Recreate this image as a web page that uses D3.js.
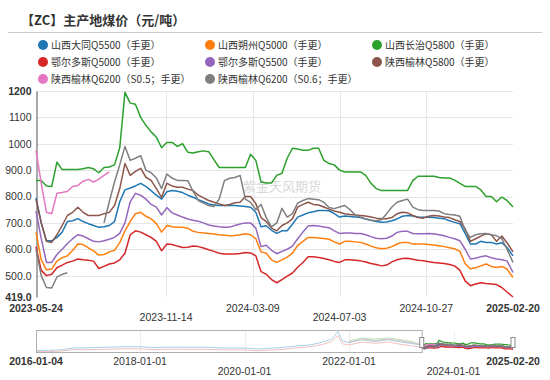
<!DOCTYPE html>
<html><head><meta charset="utf-8">
<script src="https://cdn.jsdelivr.net/npm/d3@7"></script>
<style>body{margin:0;background:#fff;}svg{display:block;}</style>
</head><body><svg id="c" width="550" height="380"></svg>
<script>
// ---------- DATA ----------
const dates = ("2023-05-24,2023-05-31,2023-06-07,2023-06-14,2023-06-21,2023-06-28,2023-07-05,2023-07-12,2023-07-19,2023-07-26," +
"2023-08-02,2023-08-09,2023-08-16,2023-08-23,2023-08-30,2023-09-06,2023-09-13,2023-09-20,2023-09-27,2023-10-04," +
"2023-10-11,2023-10-18,2023-10-25,2023-11-01,2023-11-08,2023-11-15,2023-11-22,2023-11-29,2023-12-06,2023-12-13," +
"2023-12-20,2023-12-27,2024-01-03,2024-01-10,2024-01-17,2024-01-24,2024-01-31,2024-02-07,2024-02-14,2024-02-21," +
"2024-02-28,2024-03-06,2024-03-13,2024-03-20,2024-03-27,2024-04-03,2024-04-10,2024-04-17,2024-04-24,2024-05-01," +
"2024-05-08,2024-05-15,2024-05-22,2024-05-29,2024-06-05,2024-06-12,2024-06-19,2024-06-26,2024-07-03,2024-07-10," +
"2024-07-17,2024-07-24,2024-07-31,2024-08-07,2024-08-14,2024-08-21,2024-08-28,2024-09-04,2024-09-11,2024-09-18," +
"2024-09-25,2024-10-02,2024-10-09,2024-10-16,2024-10-23,2024-10-30,2024-11-06,2024-11-13,2024-11-20,2024-11-27," +
"2024-12-04,2024-12-11,2024-12-18,2024-12-25,2025-01-01,2025-01-08,2025-01-15,2025-01-22,2025-01-29,2025-02-05," +
"2025-02-12,2025-02-20").split(",");

const datong5500 = [795,700,632,632,645,665,705,708,716,705, 697,690,683,685,690,705,780,825,832,840,
 850,838,822,805,790,818,823,820,815,805, 797,788,780,772,768,766,766,766,766,764,
 762,759,740,685,689,672,660,670,670,695, 722,730,738,742,747,747,746,735,722,726,
 724,722,720,715,710,705,702,703,708,715, 725,728,726,722,721,721,720,718,716,708,
 702,697,660,620,620,630,626,626,620,625, 607,575];
const shuozhou5000 = [664,560,522,525,555,568,575,595,620,618, 605,594,578,580,590,596,625,670,705,735,
 740,725,715,697,665,690,685,683,683,680, 668,664,662,660,658,655,653,651,652,655,
 659,655,640,590,585,560,550,560,570,585, 615,630,645,645,643,641,638,628,620,630,
 630,628,626,620,612,606,602,604,610,620, 626,626,620,620,620,618,616,613,610,606,
 602,592,545,526,530,537,544,535,531,535, 525,493];
const changzhi5800 = [861,861,840,838,930,902,902,902,902,905, 910,905,890,910,912,920,985,1195,1154,1150,
 1100,1070,1045,1025,985,1005,1005,990,1000,968, 965,970,973,970,940,910,910,910,910,910,
 910,960,937,855,851,851,880,888,945,983, 980,975,975,983,983,937,925,920,900,893,
 893,893,893,880,850,830,823,823,823,823, 823,823,860,877,877,877,877,872,870,870,
 862,850,838,838,838,825,800,800,780,798, 785,760];
const erdos5000 = [610,520,500,505,530,540,550,555,563,560, 558,555,527,535,544,548,560,585,655,670,
 665,655,645,630,594,620,618,612,607,608, 612,610,605,598,592,585,582,582,582,584,
 588,586,575,515,505,485,473,485,498,510, 532,550,572,572,569,565,560,554,550,560,
 560,558,556,552,546,542,537,540,552,560, 565,566,562,558,556,553,550,548,546,542,
 537,520,480,462,468,473,470,468,466,455, 438,419];
const erdos5500 = [745,640,550,550,580,600,622,640,655,650, 640,630,628,632,638,645,660,700,780,812,
 805,790,770,760,730,758,738,730,722,715, 710,706,700,692,688,685,683,684,690,696,
 700,700,680,610,615,596,583,592,600,612, 640,665,688,690,688,684,682,670,660,662,
 662,660,660,655,648,642,640,642,650,664, 668,668,660,659,659,660,659,655,651,645,
 640,632,600,563,566,572,575,568,563,560, 556,512];
const yulin5800 = [790,700,630,626,655,690,728,740,759,740, 728,728,728,735,740,766,830,925,880,895,
 907,873,861,830,797,850,840,835,835,828, 823,805,795,785,778,772,766,770,776,778,
 800,800,773,720,705,680,670,690,700,715, 760,770,778,770,768,760,752,745,740,735,
 732,730,728,726,722,718,716,716,720,735, 740,738,728,720,718,725,728,726,722,720,
 712,705,678,630,640,650,659,655,630,650, 625,590];
const yulin6200s05 = [975,850,740,735,812,815,820,838,842,858, 865,855,866,880,893];
const yulin6200s06 = [600,500,455,453,495,505,511,null,null,null, null,null,null,700,780,855,920,990,937,945,
 955,900,890,870,830,885,870,861,861,860, 820,785,775,766,762,790,860,869,872,880,
 790,778,750,770,720,685,700,755,722,735, 775,785,792,790,788,778,758,754,760,766,
 750,730,722,715,710,708,712,735,760,778, 785,790,760,750,747,747,747,745,735,732,
 730,725,670,645,655,659,660,655,651,640, 600,550];

const seriesNames = ["山西大同Q5500（手更）","山西朔州Q5000（手更）","山西长治Q5800（手更）",
 "鄂尔多斯Q5000（手更）","鄂尔多斯Q5500（手更）","陕西榆林Q5800（手更）",
 "陕西榆林Q6200（S0.5；手更）","陕西榆林Q6200（S0.6；手更）"];
const seriesValues = [datong5500, shuozhou5000, changzhi5800, erdos5000, erdos5500, yulin5800, yulin6200s05, yulin6200s06];
const seriesColors = ["#1f77b4","#ff7f0e","#2ca02c","#d62728","#9467bd","#8c564b","#e377c2","#7f7f7f"];

const yTickValues = [419,500,600,700,800,900,1000,1100,1200];
const yTickLabels = ["419.0","500.0","600.0","700.0","800.0","900.0","1000","1100","1200"];
const xTickDates = ["2023-05-24","2023-11-14","2024-03-09","2024-07-03","2024-10-27","2025-02-20"];

// navigator history (before the visible window)
const histDates = ["2016-01-04","2016-04-01","2016-07-01","2016-10-01","2017-01-01","2017-04-01","2017-07-01","2017-10-01",
 "2018-01-01","2018-04-01","2018-07-01","2018-10-01","2019-01-01","2019-04-01","2019-07-01","2019-10-01",
 "2020-01-01","2020-04-01","2020-07-01","2020-10-01","2021-01-01","2021-04-01","2021-07-01","2021-09-01",
 "2021-10-15","2021-11-15","2022-01-01","2022-04-01","2022-07-01","2022-10-01","2023-01-01","2023-04-01","2023-05-24"];
const histDatong = [330,330,390,560,560,600,620,660,650,580,610,620,600,610,560,540,540,460,520,600,720,800,1050,1300,1950,1150,1000,1250,1100,1250,1050,900,795];
const histErdos = [230,230,280,420,400,430,450,480,470,400,430,440,420,430,400,380,380,300,360,430,560,640,850,1100,1600,900,800,1050,950,1050,850,700,610];
const histChangzhi = [null,null,null,null,null,null,null,null,null,null,null,null,null,null,null,null,null,null,null,null,null,null,null,null,null,null,1150,1400,1300,1400,1250,1050,861];
const histYulin = [null,null,null,null,null,null,null,null,null,null,null,null,null,null,null,null,null,null,null,null,null,null,null,null,null,null,1050,1300,1200,1300,1150,950,790];
const navTickDates = ["2016-01-04","2018-01-01","2020-01-01","2022-01-01","2024-01-01","2025-02-20"];

// ---------- DRAW ----------
const parse = d3.timeParse("%Y-%m-%d");
const svg = d3.select("#c");
const X0 = 36, X1 = 513, YB = 297, YT = 91;
const FONT = "'Liberation Sans', Arial, sans-serif";
const CJK = "'Noto Sans CJK SC', sans-serif";

const x = d3.scaleTime().domain([parse("2023-05-24"), parse("2025-02-20")]).range([X0, X1]);
const y = d3.scaleLinear().domain([419, 1200]).range([YB, YT]);

// title
svg.append("text").attr("x", 21).attr("y", 25)
  .attr("font-family", CJK).attr("font-weight", "bold").attr("font-size", 13).attr("fill", "#333")
  .text("【ZC】主产地煤价（元/吨）");
svg.append("line").attr("x1", 8).attr("x2", 542).attr("y1", 32.5).attr("y2", 32.5)
  .attr("stroke", "#c8c8c8").attr("stroke-width", 1);

// legend
const legX = [43, 210, 377], legY = [45, 62, 79];
const leg = svg.append("g");
seriesNames.forEach((n, i) => {
  const cx = legX[i % 3], cy = legY[Math.floor(i / 3)];
  leg.append("circle").attr("cx", cx).attr("cy", cy).attr("r", 5).attr("fill", seriesColors[i]);
  leg.append("text").attr("x", cx + 8).attr("y", cy).attr("dy", "0.36em")
    .attr("font-family", CJK).attr("font-size", 10).attr("fill", "#333").text(n);
});

// grid
const grid = svg.append("g");
yTickValues.filter(v => v > 419).forEach(v => {
  grid.append("line").attr("x1", X0).attr("x2", X1).attr("y1", Math.round(y(v)) + 0.5).attr("y2", Math.round(y(v)) + 0.5)
    .attr("stroke", "#e6e6e6");
});
xTickDates.slice(1, -1).forEach(d => {
  const xx = Math.round(x(parse(d))) + 0.5;
  grid.append("line").attr("x1", xx).attr("x2", xx).attr("y1", YT).attr("y2", YB).attr("stroke", "#e6e6e6");
});

// y axis
const yAxis = d3.axisLeft(y).tickValues(yTickValues).tickSize(0).tickPadding(5)
  .tickFormat((d, i) => yTickLabels[i]);
const ya = svg.append("g").attr("transform", `translate(${X0 + 0.5},0)`).call(yAxis);
ya.select(".domain").attr("stroke", "#555");
ya.selectAll("text").attr("font-family", FONT).attr("font-size", 10.5).attr("fill", "#333")
  .attr("font-weight", (d) => (d === 419 || d === 1200) ? "bold" : "normal");

// x axis labels
const xa = svg.append("g");
xTickDates.forEach((d, i) => {
  const lower = (i === 1 || i === 3);
  xa.append("text").attr("x", x(parse(d))).attr("y", lower ? 321 : 312)
    .attr("text-anchor", "middle").attr("font-family", FONT).attr("font-size", 10.5)
    .attr("fill", "#333").attr("font-weight", (i === 0 || i === 5) ? "bold" : "normal").text(d);
});

// watermark
svg.append("text").attr("x", 243).attr("y", 191).attr("font-family", CJK).attr("font-size", 13)
  .attr("fill", "#d0d0d0").attr("opacity", 0.8).text("紫金天风期货");

// series
const dts = dates.map(parse);
const line = d3.line().defined(d => d[1] != null).x(d => x(d[0])).y(d => y(d[1]));
const plot = svg.append("g");
seriesValues.forEach((vals, i) => {
  const pts = dts.map((d, j) => [d, j < vals.length ? vals[j] : null]);
  plot.append("path").attr("d", line(pts)).attr("fill", "none")
    .attr("stroke", seriesColors[i]).attr("stroke-width", 1.5).attr("stroke-linejoin", "round");
});

// ---------- navigator ----------
const nx = d3.scaleTime().domain([parse("2016-01-04"), parse("2025-02-20")]).range([X0, X1]);
const ny = d3.scaleLinear().domain([200, 2000]).range([352, 331]);
const nav = svg.append("g");
navTickDates.slice(1, -1).forEach(d => {
  const xx = Math.round(nx(parse(d))) + 0.5;
  nav.append("line").attr("x1", xx).attr("x2", xx).attr("y1", 331).attr("y2", 352).attr("stroke", "#eee");
});
const hd = histDates.map(parse);
const nline = d3.line().defined(d => d[1] != null).x(d => nx(d[0])).y(d => ny(d[1]));
[[histDatong, "#9ecae1"], [histErdos, "#f2b8b8"], [histChangzhi, "#b9dcb4"], [histYulin, "#d0c0bc"]].forEach(([vals, c]) => {
  nav.append("path").attr("d", nline(hd.map((d, j) => [d, vals[j]]))).attr("fill", "none")
    .attr("stroke", c).attr("stroke-width", 1).attr("opacity", 0.9);
});
seriesValues.forEach((vals, i) => {
  const pts = dts.map((d, j) => [d, j < vals.length ? vals[j] : null]);
  nav.append("path").attr("d", nline(pts)).attr("fill", "none")
    .attr("stroke", seriesColors[i]).attr("stroke-width", 1.2);
});
const selX = nx(parse("2023-05-24"));
nav.append("rect").attr("x", X0 + 0.5).attr("y", 330.5).attr("width", selX - X0).attr("height", 22)
  .attr("fill", "none").attr("stroke", "#b0b0b0");
[selX, X1].forEach(hx => {
  nav.append("rect").attr("x", hx - 2).attr("y", 337.5).attr("width", 4).attr("height", 10)
    .attr("fill", "#fff").attr("stroke", "#888");
});
navTickDates.forEach((d, i) => {
  const lower = (i === 2 || i === 4);
  nav.append("text").attr("x", nx(parse(d))).attr("y", lower ? 375 : 365)
    .attr("text-anchor", "middle").attr("font-family", FONT).attr("font-size", 10.5)
    .attr("fill", "#333").attr("font-weight", (i === 0 || i === 5) ? "bold" : "normal").text(d);
});
</script>
</body></html>
